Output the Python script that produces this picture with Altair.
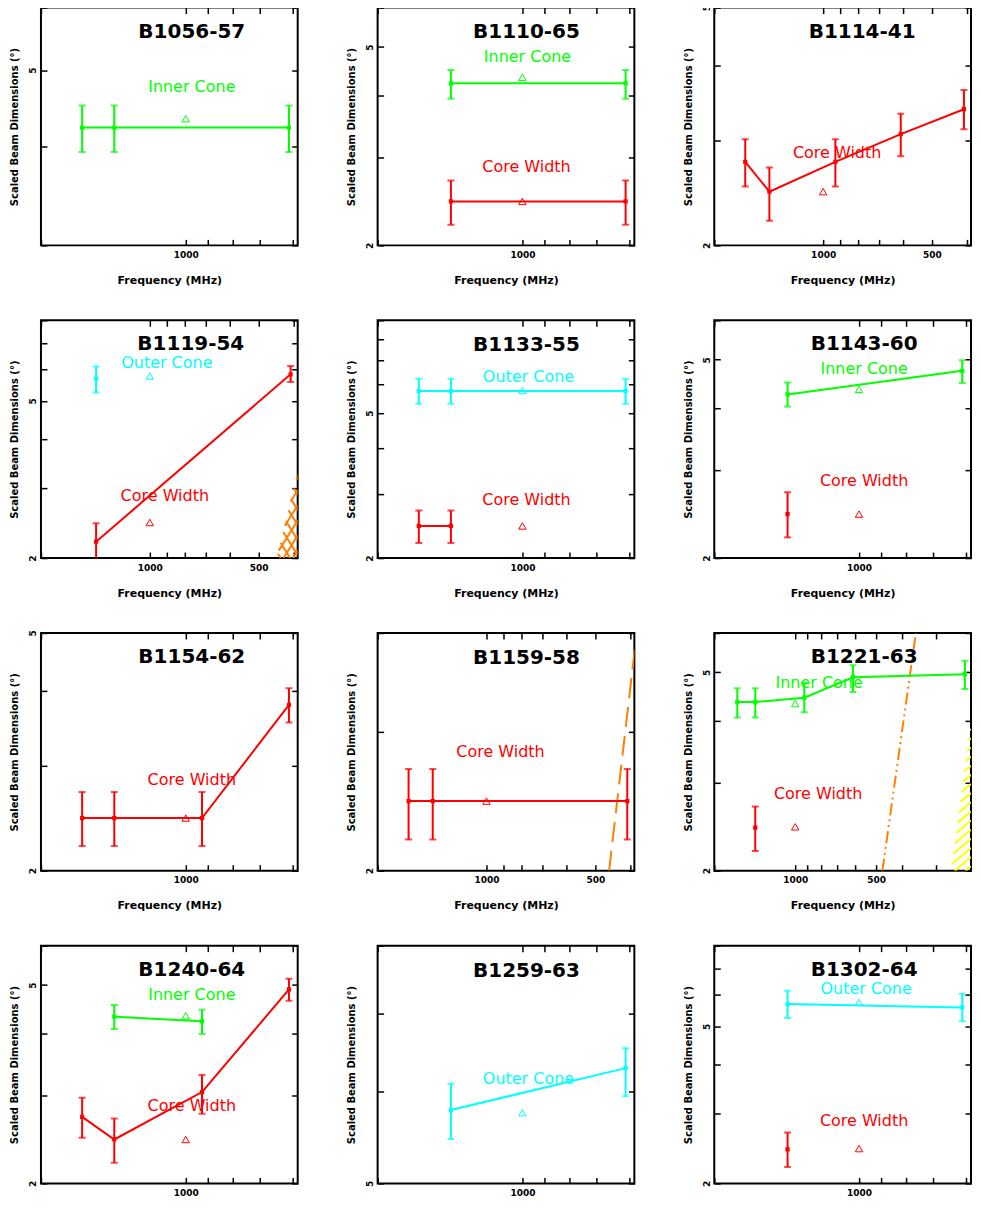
import altair as alt
import numpy as np
import pandas as pd

# ---------------- data ----------------
# frequencies in MHz, widths in degrees; lo/hi are the error-bar ends
B1056_INNER = {"f": [1642, 1408, 610], "w": [4.23, 4.23, 4.23], "lo": [3.94, 3.94, 3.94], "hi": [4.51, 4.51, 4.51]}
B1056_FIT = {"inner": 4.34}

B1110_INNER = {"f": [1408, 610], "w": [4.23, 4.23], "lo": [3.94, 3.94], "hi": [4.50, 4.50]}
B1110_CORE = {"f": [1408, 610], "w": [2.45, 2.45], "lo": [2.20, 2.20], "hi": [2.70, 2.70]}
B1110_FIT = {"inner": 4.35, "core": 2.45}

B1114_CORE = {"f": [1642, 1408, 925, 610, 408], "w": [2.76, 2.46, 2.76, 3.07, 3.38],
              "lo": [2.51, 2.20, 2.51, 2.82, 3.13], "hi": [3.01, 2.70, 3.01, 3.32, 3.64]}
B1114_FIT = {"core": 2.46}

B1119_OUTER = {"f": [1408], "w": [5.69], "lo": [5.25], "hi": [6.11]}
B1119_CORE = {"f": [1408, 408], "w": [2.20, 5.84], "lo": [1.90, 5.58], "hi": [2.45, 6.13]}
B1119_FIT = {"outer": 5.78, "core": 2.46}
B1119_HATCH = {"f": [445, 390, 390], "y": [2.0, 3.3, 2.0]}

B1133_OUTER = {"f": [1642, 1408, 610], "w": [5.75, 5.75, 5.75], "lo": [5.31, 5.31, 5.31], "hi": [6.22, 6.22, 6.22]}
B1133_CORE = {"f": [1642, 1408], "w": [2.45, 2.45], "lo": [2.20, 2.20], "hi": [2.70, 2.70]}
B1133_FIT = {"outer": 5.77, "core": 2.45}

B1143_INNER = {"f": [1408, 610], "w": [4.26, 4.75], "lo": [4.03, 4.49], "hi": [4.50, 4.99]}
B1143_CORE = {"f": [1408], "w": [2.45], "lo": [2.20], "hi": [2.71]}
B1143_FIT = {"inner": 4.36, "core": 2.45}

B1154_CORE = {"f": [1642, 1408, 925, 610], "w": [2.45, 2.45, 2.45, 3.79],
              "lo": [2.20, 2.20, 2.20, 3.54], "hi": [2.71, 2.71, 2.71, 4.04]}
B1154_FIT = {"core": 2.45}

B1159_CORE = {"f": [1642, 1408, 408], "w": [2.45, 2.45, 2.45], "lo": [2.19, 2.19, 2.19], "hi": [2.69, 2.69, 2.69]}
B1159_FIT = {"core": 2.45}
B1159_LIMIT = {"f": [458, 387], "y": [2.0, 3.89]}

B1221_INNER = {"f": [1642, 1408, 925, 610, 234], "w": [4.36, 4.36, 4.45, 4.89, 4.96],
               "lo": [4.06, 4.06, 4.16, 4.57, 4.63], "hi": [4.65, 4.65, 4.76, 5.17, 5.28]}
B1221_CORE = {"f": [1408], "w": [2.44], "lo": [2.19], "hi": [2.69]}
B1221_FIT = {"inner": 4.33, "core": 2.45}
B1221_LIMIT = {"f": [474, 356], "y": [2.0, 6.0]}
B1221_HATCH = {"f": [263, 222, 222], "y": [2.0, 3.98, 2.0]}

B1240_INNER = {"f": [1408, 925], "w": [4.32, 4.23], "lo": [4.08, 3.99], "hi": [4.56, 4.46]}
B1240_CORE = {"f": [1642, 1408, 925, 610], "w": [2.72, 2.45, 3.05, 4.90],
              "lo": [2.47, 2.20, 2.76, 4.65], "hi": [2.97, 2.70, 3.30, 5.15]}
B1240_FIT = {"inner": 4.34, "core": 2.45}

B1259_OUTER = {"f": [1408, 610], "w": [5.78, 6.28], "lo": [5.46, 5.94], "hi": [6.09, 6.53]}
B1259_FIT = {"outer": 5.75}

B1302_OUTER = {"f": [1408, 610], "w": [5.69, 5.58], "lo": [5.25, 5.15], "hi": [6.15, 6.04]}
B1302_CORE = {"f": [1408], "w": [2.44], "lo": [2.20], "hi": [2.69]}
B1302_FIT = {"outer": 5.75, "core": 2.45}

X_TICKS = [200, 300, 400, 500, 600, 700, 800, 900, 1000, 2000]
Y_TICKS = [2, 3, 4, 5, 6, 7, 8, 9]

# ---------------- styling ----------------
W, H = 257, 238
FONT = "DejaVu Sans"
COL = {"inner": "#00ff00", "outer": "#00ffff", "core": "#ff0000"}
NAME = {"inner": "Inner Cone", "outer": "Outer Cone", "core": "Core Width"}
ORANGE = "#ff8000"
YELLOW = "#ffff00"


def xs(dom):
    return alt.Scale(type="log", domain=list(dom), reverse=True, nice=False, zero=False)


def ys(dom):
    return alt.Scale(type="log", domain=list(dom), nice=False, zero=False)


def x_axis(dom, main, tpad=15):
    vals = [v for v in X_TICKS if dom[0] <= v <= dom[1]]
    if main:
        return alt.Axis(orient="bottom", values=vals, offset=-6, tickSize=6, domain=False, grid=False,
                        labelExpr="(datum.value == 1000 || datum.value == 500) ? format(datum.value, 'd') : ''",
                        labelOverlap=False, labelFlush=False, labelPadding=5, labelFontSize=9,
                        labelFontWeight="bold", titleFontSize=11, titleFontWeight="bold", titlePadding=tpad)
    return alt.Axis(orient="top", values=vals, offset=-6, tickSize=6, domain=False, grid=False, labels=False,
                    minExtent=0, maxExtent=0)


def y_axis(dom, main):
    vals = [v for v in Y_TICKS if dom[0] <= v <= dom[1]]
    if main:
        return alt.Axis(orient="left", values=vals, offset=-6, tickSize=6, domain=False, grid=False,
                        labelExpr="(datum.value == 2 || datum.value == 5) ? format(datum.value, 'd') : ''",
                        labelOverlap=False, labelFlush=False, labelAngle=270, labelPadding=3,
                        labelFontSize=9, labelFontWeight="bold", titleFontSize=10,
                        titleFontWeight="bold", titlePadding=9)
    return alt.Axis(orient="right", values=vals, offset=-6, tickSize=6, domain=False, grid=False, labels=False,
                    minExtent=0, maxExtent=0)


def hatch(poly, xdom, ydom, angle, spacing):
    """hatch segments for a convex polygon given in data coordinates"""
    lx0, lx1 = np.log10(xdom[0]), np.log10(xdom[1])
    ly0, ly1 = np.log10(ydom[0]), np.log10(ydom[1])

    def to_px(f, y):
        return np.array([(lx1 - np.log10(f)) / (lx1 - lx0) * W, (np.log10(y) - ly0) / (ly1 - ly0) * H])

    def from_px(p):
        return 10 ** (lx1 - p[0] / W * (lx1 - lx0)), 10 ** (ly0 + p[1] / H * (ly1 - ly0))

    P = [to_px(f, y) for f, y in zip(poly["f"], poly["y"])]
    th = np.radians(angle)
    d = np.array([np.cos(th), np.sin(th)])
    n = np.array([-np.sin(th), np.cos(th)])
    proj = [float(n @ p) for p in P]
    rows = []
    c = min(proj) + spacing / 2
    while c < max(proj):
        ts = []
        for i in range(len(P)):
            a, b = P[i], P[(i + 1) % len(P)]
            na, nb = n @ a - c, n @ b - c
            if na * nb < 0:
                s = na / (na - nb)
                ts.append(float(d @ (a + s * (b - a))))
        if len(ts) >= 2:
            p0 = c * n + min(ts) * d
            p1 = c * n + max(ts) * d
            f1, y1 = from_px(p0)
            f2, y2 = from_px(p1)
            rows.append({"f1": f1, "y1": y1, "f2": f2, "y2": y2})
        c += spacing
    return pd.DataFrame(rows)


def panel(title, xdom, ydom, series, fits, labels, title_pos, limit=None, limit_dash=None,
          hatches=None, tpad=15):
    X = lambda fld: alt.X(fld, type="quantitative", scale=xs(xdom), axis=None, title=None)
    Y = lambda fld: alt.Y(fld, type="quantitative", scale=ys(ydom), axis=None, title=None)
    frame = pd.DataFrame({"f": [xdom[0], xdom[1]], "y": [ydom[0], ydom[1]]})
    layers = [
        alt.Chart(frame).mark_point(opacity=0, size=1).encode(
            x=alt.X("f:Q", scale=xs(xdom), axis=x_axis(xdom, True, tpad), title="Frequency (MHz)"),
            y=alt.Y("y:Q", scale=ys(ydom), axis=y_axis(ydom, True), title="Scaled Beam Dimensions (°)")),
        alt.Chart(frame).mark_point(opacity=0, size=1).encode(
            x=alt.X("f:Q", scale=xs(xdom), axis=x_axis(xdom, False), title=None),
            y=alt.Y("y:Q", scale=ys(ydom), axis=y_axis(ydom, False), title=None)),
    ]
    for poly, color, angles, sp in (hatches or []):
        for ang in angles:
            hd = hatch(poly, xdom, ydom, ang, sp)
            layers.append(alt.Chart(hd).mark_rule(color=color, strokeWidth=2, clip=True).encode(
                x=X("f1"), x2="f2", y=Y("y1"), y2="y2"))
    if limit is not None:
        ld = pd.DataFrame({"f": limit["f"], "y": limit["y"]})
        layers.append(alt.Chart(ld).mark_line(color=ORANGE, strokeWidth=2, strokeDash=limit_dash,
                                              clip=True).encode(x=X("f"), y=Y("y")))
    for key, s in series:
        c = COL[key]
        df = pd.DataFrame({"f": s["f"], "w": s["w"], "lo": s["lo"], "hi": s["hi"]})
        if len(df) > 1:
            layers.append(alt.Chart(df).mark_line(color=c, strokeWidth=2, clip=True).encode(
                x=X("f"), y=Y("w")))
        layers.append(alt.Chart(df).mark_rule(color=c, strokeWidth=2, clip=True).encode(
            x=X("f"), y=Y("lo"), y2="hi"))
        for fld in ("lo", "hi"):
            layers.append(alt.Chart(df).mark_tick(color=c, orient="horizontal", size=7, thickness=2,
                                                  clip=True).encode(x=X("f"), y=Y(fld)))
        layers.append(alt.Chart(df).mark_square(color=c, size=18, opacity=1, clip=True).encode(
            x=X("f"), y=Y("w")))
        fd = pd.DataFrame({"f": [1000], "w": [fits[key]]})
        layers.append(alt.Chart(fd).mark_point(shape="triangle-up", filled=False, color=c, size=55,
                                               strokeWidth=1, opacity=1).encode(x=X("f"), y=Y("w")))
        lx, ly = labels[key]
        layers.append(alt.Chart(pd.DataFrame({"t": [NAME[key]]})).mark_text(
            color=c, fontSize=16, font=FONT).encode(text="t:N", x=alt.value(lx), y=alt.value(ly)))
    layers.append(alt.Chart(pd.DataFrame({"t": [title]})).mark_text(
        color="black", fontSize=20, fontWeight="bold", font=FONT).encode(
        text="t:N", x=alt.value(title_pos[0]), y=alt.value(title_pos[1])))
    return alt.layer(*layers).resolve_axis(x="independent", y="independent").properties(width=W, height=H)


D1 = (585, 2000)
D2 = (390, 2000)

panels = [
    panel("B1056-57", D1, (3, 6), [("inner", B1056_INNER)], B1056_FIT, {"inner": (151, 79)}, (151, 24)),
    panel("B1110-65", D1, (2, 6), [("inner", B1110_INNER), ("core", B1110_CORE)], B1110_FIT,
          {"inner": (150, 49), "core": (149, 160)}, (149, 24)),
    panel("B1114-41", D2, (2, 5), [("core", B1114_CORE)], B1114_FIT, {"core": (123, 146)}, (148, 24)),
    panel("B1119-54", D2, (2, 8), [("outer", B1119_OUTER), ("core", B1119_CORE)], B1119_FIT,
          {"outer": (126, 43), "core": (124, 176)}, (150, 24),
          hatches=[(B1119_HATCH, ORANGE, (58, 122), 8)]),
    panel("B1133-55", D1, (2, 9), [("outer", B1133_OUTER), ("core", B1133_CORE)], B1133_FIT,
          {"outer": (151, 57), "core": (149, 180)}, (149, 25)),
    panel("B1143-60", D1, (2, 6), [("inner", B1143_INNER), ("core", B1143_CORE)], B1143_FIT,
          {"inner": (150, 49), "core": (150, 161)}, (150, 24)),
    panel("B1154-62", D1, (2, 5), [("core", B1154_CORE)], B1154_FIT, {"core": (151, 147)}, (151, 24)),
    panel("B1159-58", D2, (2, 4), [("core", B1159_CORE)], B1159_FIT, {"core": (123, 119)}, (149, 25),
          limit=B1159_LIMIT, limit_dash=[20, 9]),
    panel("B1221-63", (222, 2000), (2, 6), [("inner", B1221_INNER), ("core", B1221_CORE)], B1221_FIT,
          {"inner": (105, 50), "core": (104, 161)}, (150, 24),
          limit=B1221_LIMIT, limit_dash=[12, 4, 2, 4, 2, 4],
          hatches=[(B1221_HATCH, YELLOW, (40,), 7)]),
    panel("B1240-64", D1, (2, 6), [("inner", B1240_INNER), ("core", B1240_CORE)], B1240_FIT,
          {"inner": (151, 49), "core": (151, 161)}, (151, 24), tpad=10),
    panel("B1259-63", D1, (5, 8), [("outer", B1259_OUTER)], B1259_FIT, {"outer": (151, 133)}, (149, 25),
          tpad=10),
    panel("B1302-64", D1, (2, 8), [("outer", B1302_OUTER), ("core", B1302_CORE)], B1302_FIT,
          {"outer": (152, 43), "core": (150, 176)}, (150, 24), tpad=10),
]

chart = alt.concat(*panels, columns=3, spacing={"row": 75, "column": 80}, bounds="flush").properties(
    padding={"left": 0, "top": -6, "right": 0, "bottom": -15}
).configure(font=FONT).configure_view(stroke="black", strokeWidth=2).configure_axis(
    tickColor="black", tickWidth=1.5, labelColor="black", titleColor="black", labelFont=FONT, titleFont=FONT
)

chart.save("out.html", embed_options={"renderer": "svg", "actions": False})
